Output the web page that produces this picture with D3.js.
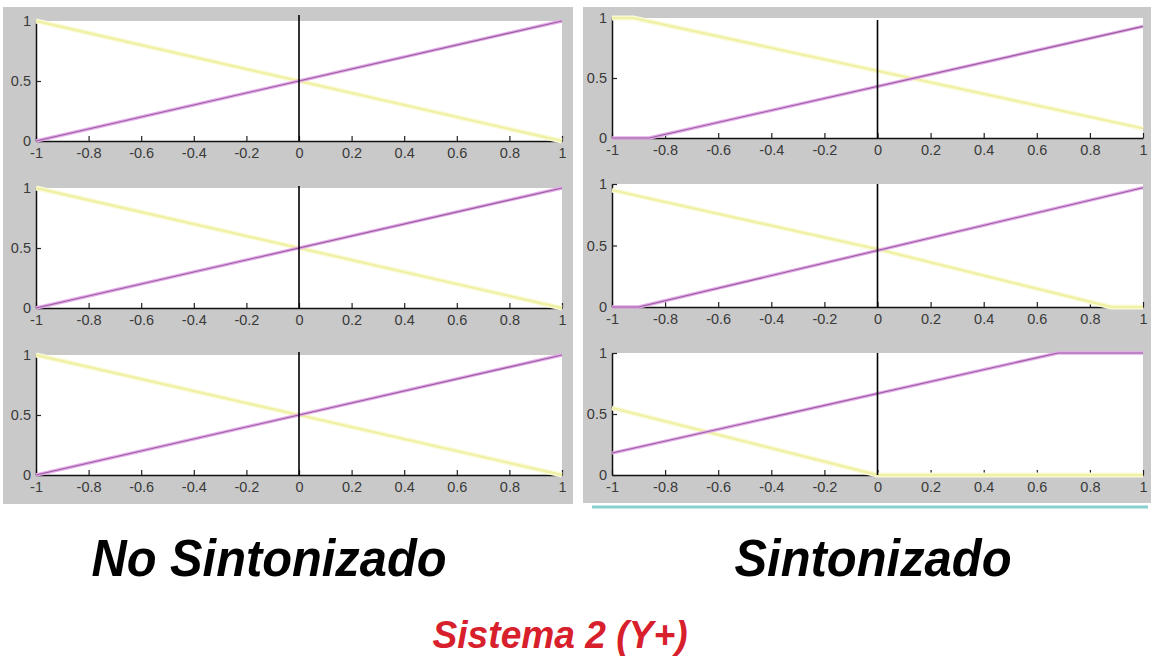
<!DOCTYPE html>
<html>
<head>
<meta charset="utf-8">
<script src="https://cdn.jsdelivr.net/npm/d3@7"></script>
<style>
  body { margin: 0; background: #fff; }
  svg { display: block; }
</style>
</head>
<body>
<svg id="chart" width="1151" height="658"></svg>
<script>
// Axis ticks shared by every panel
const xTicks = [-1, -0.8, -0.6, -0.4, -0.2, 0, 0.2, 0.4, 0.6, 0.8, 1];
const xTickLabels = ["-1", "-0.8", "-0.6", "-0.4", "-0.2", "0", "0.2", "0.4", "0.6", "0.8", "1"];
const yTicks = [0, 0.5, 1];
const yTickLabels = ["0", "0.5", "1"];

const columnTitles = ["No Sintonizado", "Sintonizado"];
const figureTitle = "Sistema 2 (Y+)";

// Membership functions as [x, degree] pairs — untuned system
const noSint1Yellow = [[-1, 1], [1, 0]];
const noSint1Purple = [[-1, 0], [1, 1]];
const noSint2Yellow = [[-1, 1], [1, 0]];
const noSint2Purple = [[-1, 0], [1, 1]];
const noSint3Yellow = [[-1, 1], [1, 0]];
const noSint3Purple = [[-1, 0], [1, 1]];

// Membership functions — tuned system
const sint1Yellow = [[-1, 1], [-0.92, 1], [1, 0.08]];
const sint1Purple = [[-1, 0], [-0.86, 0], [1, 0.93]];
const sint2Yellow = [[-1, 0.95], [0, 0.47], [0.88, 0], [1, 0]];
const sint2Purple = [[-1, 0], [-0.9, 0], [1, 0.97]];
const sint3Yellow = [[-1, 0.55], [0, 0], [1, 0]];
const sint3Purple = [[-1, 0.18], [0.68, 1], [1, 1]];

const svg = d3.select("#chart");

// Grey figure backgrounds
svg.append("rect").attr("x", 3).attr("y", 7).attr("width", 570).attr("height", 497).attr("fill", "#c9c9c9");
svg.append("rect").attr("x", 583).attr("y", 7).attr("width", 568).attr("height", 496).attr("fill", "#c9c9c9");
svg.append("line").attr("x1", 592).attr("x2", 1148).attr("y1", 507).attr("y2", 507)
  .attr("stroke", "#86d0d2").attr("stroke-width", 3);

const panels = [
  { yellow: noSint1Yellow, purple: noSint1Purple, left: 36, right: 562, top: 21, bottom: 141, zeroExt: 6 },
  { yellow: noSint2Yellow, purple: noSint2Purple, left: 36, right: 562, top: 188, bottom: 308, zeroExt: 2 },
  { yellow: noSint3Yellow, purple: noSint3Purple, left: 36, right: 562, top: 355, bottom: 475, zeroExt: 3 },
  { yellow: sint1Yellow, purple: sint1Purple, left: 612, right: 1143, top: 18, bottom: 138, zeroExt: -2 },
  { yellow: sint2Yellow, purple: sint2Purple, left: 612, right: 1143, top: 184, bottom: 307, zeroExt: 0 },
  { yellow: sint3Yellow, purple: sint3Purple, left: 612, right: 1143, top: 353, bottom: 475, zeroExt: 0 }
];

panels.forEach(p => {
  const x = d3.scaleLinear().domain([-1, 1]).range([p.left, p.right]);
  const y = d3.scaleLinear().domain([0, 1]).range([p.bottom, p.top]);
  const g = svg.append("g");

  g.append("rect")
    .attr("x", p.left).attr("y", p.top)
    .attr("width", p.right - p.left).attr("height", p.bottom - p.top)
    .attr("fill", "#ffffff");

  const xAxis = d3.axisBottom(x)
    .tickValues(xTicks)
    .tickFormat((d, i) => xTickLabels[i])
    .tickSizeInner(-5).tickSizeOuter(0).tickPadding(7);
  const yAxis = d3.axisLeft(y)
    .tickValues(yTicks)
    .tickFormat((d, i) => yTickLabels[i])
    .tickSizeInner(-5).tickSizeOuter(0).tickPadding(5);

  const gx = g.append("g").attr("transform", `translate(0,${p.bottom})`).call(xAxis);
  const gy = g.append("g").attr("transform", `translate(${p.left},0)`).call(yAxis);
  [gx, gy].forEach(a => {
    a.select(".domain").attr("stroke", "#111").attr("stroke-width", 1.5);
    a.selectAll(".tick line").attr("stroke", "#222").attr("stroke-width", 1.2);
    a.selectAll(".tick text")
      .attr("fill", "#3a3a3a")
      .style("font-family", "'Liberation Sans', Arial, sans-serif")
      .style("font-size", "14.5px");
  });

  const line = d3.line().x(d => x(d[0])).y(d => y(d[1]));

  // yellow: decreasing membership
  g.append("path").datum(p.yellow).attr("d", line)
    .attr("fill", "none").attr("stroke", "#fbfbdc").attr("stroke-width", 5).attr("stroke-linejoin", "round");
  g.append("path").datum(p.yellow).attr("d", line)
    .attr("fill", "none").attr("stroke", "#f0f1a6").attr("stroke-width", 2.4).attr("stroke-linejoin", "round");

  // purple: increasing membership
  g.append("path").datum(p.purple).attr("d", line)
    .attr("fill", "none").attr("stroke", "#e4acea").attr("stroke-width", 3.4).attr("stroke-linejoin", "round");
  g.append("path").datum(p.purple).attr("d", line)
    .attr("fill", "none").attr("stroke", "#9a5c9e").attr("stroke-width", 1.1).attr("stroke-linejoin", "round");

  // vertical marker at x = 0
  g.append("line")
    .attr("x1", x(0)).attr("x2", x(0))
    .attr("y1", p.top - p.zeroExt).attr("y2", p.bottom)
    .attr("stroke", "#000").attr("stroke-width", 1.6);
});

const titleFont = "'Liberation Sans', Arial, Helvetica, sans-serif";
function title(txt, cx, cy, size, width, color) {
  svg.append("text").attr("x", cx).attr("y", cy)
    .attr("text-anchor", "middle")
    .attr("textLength", width).attr("lengthAdjust", "spacingAndGlyphs")
    .style("font-family", titleFont).style("font-size", size + "px")
    .style("font-weight", "bold").style("font-style", "italic")
    .attr("fill", color).text(txt);
}
title(columnTitles[0], 269, 576, 52, 355, "#000");
title(columnTitles[1], 873, 576, 52, 277, "#000");
title(figureTitle, 560, 648, 38, 255, "#d7202c");
</script>
</body>
</html>
